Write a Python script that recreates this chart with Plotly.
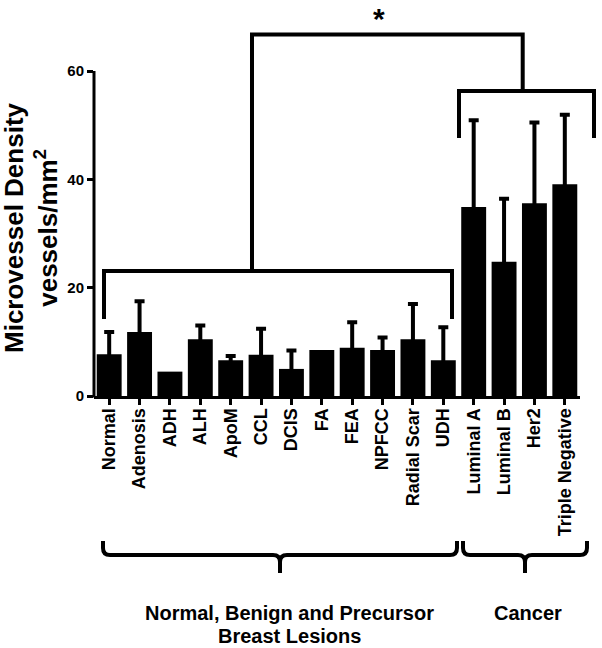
import plotly.graph_objects as go

categories = ["Normal", "Adenosis", "ADH", "ALH", "ApoM", "CCL", "DCIS", "FA", "FEA",
              "NPFCC", "Radial Scar", "UDH", "Luminal A", "Luminal B", "Her2", "Triple Negative"]
means = [7.7, 11.8, 4.5, 10.5, 6.6, 7.6, 5.0, 8.5, 8.9, 8.5, 10.5, 6.6, 34.9, 24.8, 35.6, 39.1]
errors = [4.1, 5.7, None, 2.5, 0.8, 4.8, 3.4, None, 4.7, 2.3, 6.5, 6.1, 16.0, 11.6, 14.9, 12.8]
y_ticks = [0, 20, 40, 60]

FONT = "Liberation Sans, Arial, sans-serif"
W, H = 602, 648
# plot area in page pixels: left 94, right 580, top 6, bottom 396
ML, MT = 94, 6
MR = W - 580
MB = H - 396
PW, PH = W - ML - MR, H - MT - MB
Y_MAX = 60 * PH / 325.0


def px(x):
    return (x - ML) / PW


def py(y):
    return (396 - y) / PH


fig = go.Figure()
fig.add_trace(go.Bar(
    x=categories, y=means, width=0.82,
    marker=dict(color="black", line=dict(width=0)),
))
# error bars only where an error value exists
err_y = [m if e is not None else None for m, e in zip(means, errors)]
fig.add_trace(go.Scatter(
    x=categories, y=err_y, mode="markers",
    marker=dict(size=1, color="black"),
    error_y=dict(type="data", symmetric=True, array=[e if e is not None else 0 for e in errors],
                 color="black", thickness=4, width=5),
    cliponaxis=False,
))

shapes = []
# y axis line (0..60)
shapes.append(dict(type="line", xref="paper", yref="paper", x0=0, x1=0, y0=-0.004, y1=60 / Y_MAX,
                   line=dict(color="black", width=3)))


def path(points):
    d = "M " + " L ".join(f"{px(a):.5f},{py(b):.5f}" for a, b in points)
    return dict(type="path", xref="paper", yref="paper", path=d,
                line=dict(color="black", width=4))


# significance brackets
shapes.append(path([(104, 319), (104, 271), (452, 271), (452, 319)]))
shapes.append(path([(252, 271), (252, 34.5), (522.7, 34.5), (522.7, 91)]))
shapes.append(path([(459, 138), (459, 91), (594, 91), (594, 138)]))


def brace(x0, x1, xc, ytop=541, yh=555, ytip=573, r=7):
    pts = lambda a, b: f"{px(a):.5f},{py(b):.5f}"
    d = (f"M {pts(x0, ytop)} L {pts(x0, yh - r)} Q {pts(x0, yh)} {pts(x0 + r, yh)} "
         f"L {pts(xc - r, yh)} Q {pts(xc, yh)} {pts(xc, yh + r)} L {pts(xc, ytip)} "
         f"M {pts(xc, yh + r)} Q {pts(xc, yh)} {pts(xc + r, yh)} "
         f"L {pts(x1 - r, yh)} Q {pts(x1, yh)} {pts(x1, yh - r)} L {pts(x1, ytop)}")
    return dict(type="path", xref="paper", yref="paper", path=d,
                line=dict(color="black", width=4))


shapes.append(brace(103, 457, 280))
shapes.append(brace(463, 587, 525))

annotations = [
    dict(text="*", x=px(379), y=py(0), xref="paper", yref="paper", showarrow=False,
         xanchor="center", yanchor="top", font=dict(family=FONT, size=30, color="black", weight="bold")),
    dict(text="Microvessel Density<br>vessels/mm<sup>2</sup>", x=px(31), y=py(228),
         xref="paper", yref="paper", showarrow=False, textangle=-90,
         xanchor="center", yanchor="middle",
         font=dict(family=FONT, size=26, color="black", weight="bold")),
    dict(text="Normal, Benign and Precursor", x=px(289), y=py(613), xref="paper", yref="paper",
         showarrow=False, xanchor="center", yanchor="middle",
         font=dict(family=FONT, size=20, color="black", weight="bold")),
    dict(text="Breast Lesions", x=px(289), y=py(636), xref="paper", yref="paper",
         showarrow=False, xanchor="center", yanchor="middle",
         font=dict(family=FONT, size=20, color="black", weight="bold")),
    dict(text="Cancer", x=px(528), y=py(613), xref="paper", yref="paper",
         showarrow=False, xanchor="center", yanchor="middle",
         font=dict(family=FONT, size=20, color="black", weight="bold")),
]

fig.update_layout(
    width=W, height=H,
    margin=dict(l=ML, r=MR, t=MT, b=MB, pad=0),
    paper_bgcolor="white", plot_bgcolor="white",
    showlegend=False,
    shapes=shapes,
    annotations=annotations,
    xaxis=dict(
        type="category", range=[-0.5, len(categories) - 0.5],
        showline=True, linecolor="black", linewidth=3,
        ticks="outside", ticklen=6, tickwidth=3, tickcolor="black",
        tickangle=-90, showgrid=False, zeroline=False, ticklabelstandoff=-4,
        tickfont=dict(family=FONT, size=18, color="black", weight="bold"),
    ),
    yaxis=dict(
        range=[0, Y_MAX], tickvals=y_ticks, ticktext=[str(v) for v in y_ticks],
        showline=False, showgrid=False, zeroline=False,
        ticks="outside", ticklen=6, tickwidth=3, tickcolor="black",
        tickfont=dict(family=FONT, size=15, color="black", weight="bold"),
    ),
)

fig.write_html("out.html", config={"displayModeBar": False},
               post_script="document.body.style.margin='0';")
